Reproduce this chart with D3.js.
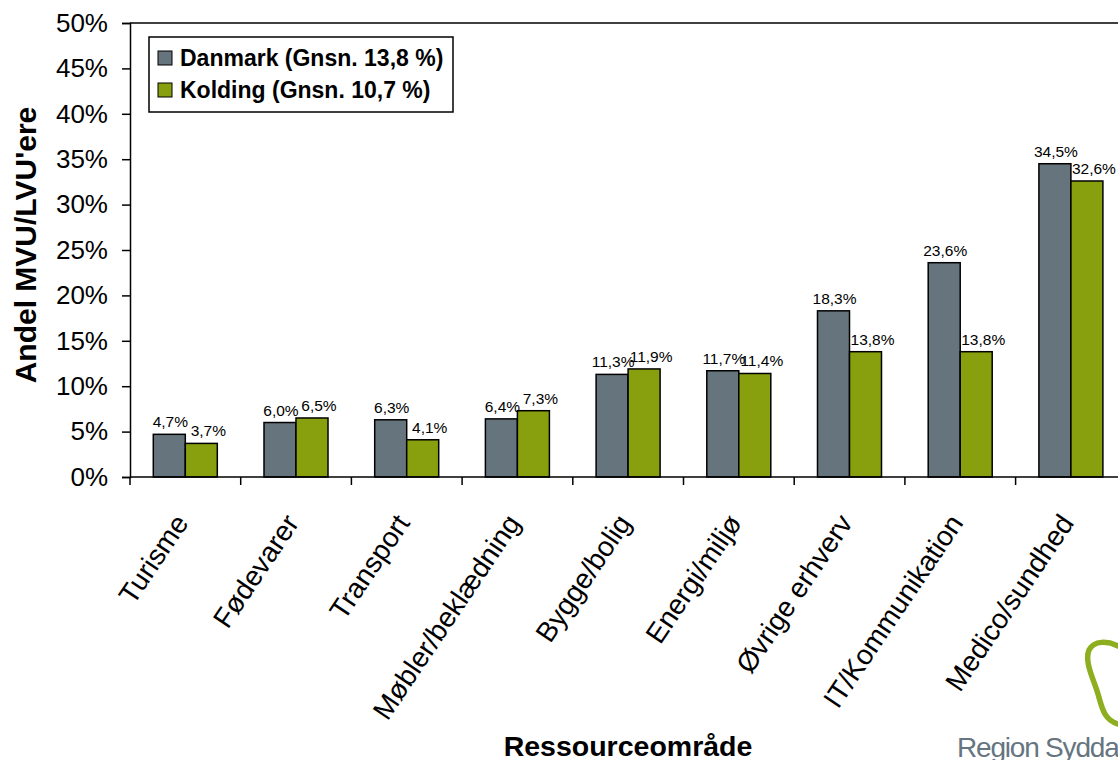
<!DOCTYPE html>
<html>
<head>
<meta charset="utf-8">
<script src="https://cdn.jsdelivr.net/npm/d3@7"></script>
<style>
  body { margin: 0; background: #fff; }
  svg { display: block; font-family: "Liberation Sans", Arial, sans-serif; }
</style>
</head>
<body>
<div id="chart"></div>
<script>
var w = 1118, h = 760;

var categories = ['Turisme', 'Fødevarer', 'Transport', 'Møbler/beklædning', 'Bygge/bolig',
                  'Energi/miljø', 'Øvrige erhverv', 'IT/Kommunikation', 'Medico/sundhed'];
var danmark = [4.7, 6.0, 6.3, 6.4, 11.3, 11.7, 18.3, 23.6, 34.5];
var kolding = [3.7, 6.5, 4.1, 7.3, 11.9, 11.4, 13.8, 13.8, 32.6];
var seriesNames = ['Danmark (Gnsn. 13,8 %)', 'Kolding (Gnsn. 10,7 %)'];
var seriesColors = ['#66757d', '#88a00e'];
var yTicks = [0, 5, 10, 15, 20, 25, 30, 35, 40, 45, 50];

// plot area edges (note: "top" is reserved on window, so use m-prefixed names)
var mLeft = 130, mTop = 23, mBottom = 477, mRight = 130 + 9 * 110.7;

var svg = d3.select('#chart').append('svg')
  .attr('width', w)
  .attr('height', h);

var x = d3.scaleBand().domain(categories).range([mLeft, mRight]).padding(0);
var xs = d3.scaleBand().domain([0, 1]).range([23.3, 87.3]).padding(0);
var y = d3.scaleLinear().domain([0, 50]).range([mBottom, mTop]);

function fmt(v) { return v.toFixed(1).replace('.', ',') + '%'; }

// top border of plot area
svg.append('line')
  .attr('x1', mLeft).attr('x2', w)
  .attr('y1', mTop).attr('y2', mTop)
  .attr('stroke', '#000').attr('stroke-width', 1.5);

// y axis
var yAxis = svg.append('g')
  .attr('transform', 'translate(' + mLeft + ',0)')
  .call(d3.axisLeft(y).tickValues(yTicks).tickSize(8).tickPadding(14)
    .tickFormat(function(d) { return d + '%'; }));
yAxis.select('.domain').attr('stroke-width', 1.5);
yAxis.selectAll('.tick line').attr('stroke-width', 1.5);
yAxis.selectAll('text').style('font-size', '26px').attr('fill', '#000')
  .attr('font-family', '"Liberation Sans", Arial, sans-serif');

// bars
var groups = svg.selectAll('.grp')
  .data(categories)
  .enter().append('g')
  .attr('transform', function(d) { return 'translate(' + x(d) + ',0)'; });

groups.each(function(c, i) {
  var vals = [danmark[i], kolding[i]];
  var g = d3.select(this);
  g.selectAll('rect')
    .data(vals)
    .enter().append('rect')
    .attr('x', function(d, j) { return xs(j); })
    .attr('y', function(d) { return y(d); })
    .attr('width', xs.bandwidth())
    .attr('height', function(d) { return mBottom - y(d); })
    .attr('fill', function(d, j) { return seriesColors[j]; })
    .attr('stroke', '#000')
    .attr('stroke-width', 1.5);
  g.selectAll('text.val')
    .data(vals)
    .enter().append('text')
    .attr('class', 'val')
    .attr('x', function(d, j) { return xs(j) + xs.bandwidth() / 2 + (j === 1 ? 7 : 1); })
    .attr('y', function(d) { return y(d) - 7; })
    .attr('text-anchor', 'middle')
    .style('font-size', '15.5px')
    .text(fmt);
});

// x axis
var xAxisLine = svg.append('g');
xAxisLine.append('line')
  .attr('x1', mLeft).attr('x2', w)
  .attr('y1', mBottom).attr('y2', mBottom)
  .attr('stroke', '#000').attr('stroke-width', 1.5);
xAxisLine.selectAll('line.tk')
  .data(categories)
  .enter().append('line')
  .attr('class', 'tk')
  .attr('x1', function(d) { return x(d); })
  .attr('x2', function(d) { return x(d); })
  .attr('y1', mBottom).attr('y2', mBottom + 8)
  .attr('stroke', '#000').attr('stroke-width', 1.5);

svg.selectAll('text.cat')
  .data(categories)
  .enter().append('text')
  .attr('class', 'cat')
  .attr('text-anchor', 'end')
  .attr('transform', function(d) {
    return 'translate(' + (x(d) + x.bandwidth() / 2 + 4) + ',' + (mBottom + 46) + ') rotate(-56)';
  })
  .style('font-size', '28px')
  .text(function(d) { return d; });

// axis titles
svg.append('text')
  .attr('transform', 'translate(36,245) rotate(-90)')
  .attr('text-anchor', 'middle')
  .style('font-size', '30px').style('font-weight', 'bold')
  .text("Andel MVU/LVU'ere");

svg.append('text')
  .attr('x', 628).attr('y', 756)
  .attr('text-anchor', 'middle')
  .style('font-size', '28.5px').style('font-weight', 'bold')
  .text('Ressourceområde');

// legend
var lg = svg.append('g').attr('transform', 'translate(149,37)');
lg.append('rect')
  .attr('width', 304).attr('height', 75)
  .attr('fill', '#fff').attr('stroke', '#000').attr('stroke-width', 1.5);
var items = lg.selectAll('.item')
  .data(seriesNames)
  .enter().append('g')
  .attr('transform', function(d, i) { return 'translate(9,' + (14 + i * 32) + ')'; });
items.append('rect')
  .attr('width', 14).attr('height', 14)
  .attr('fill', function(d, i) { return seriesColors[i]; })
  .attr('stroke', '#000').attr('stroke-width', 1);
items.append('text')
  .attr('x', 22).attr('y', 15)
  .style('font-size', '23px').style('font-weight', 'bold')
  .text(function(d) { return d; });

// logo (Region Syddanmark)
svg.append('path')
  .attr('d', 'M1118,646 C1108,641 1094,640 1089,650 C1084,662 1094,680 1098,694 C1102,708 1104,720 1118,724')
  .attr('fill', 'none')
  .attr('stroke', '#8cae1f')
  .attr('stroke-width', 5.5)
  .attr('stroke-linecap', 'round');
svg.append('text')
  .attr('x', 957).attr('y', 757)
  .style('font-size', '28px')
  .style('letter-spacing', '-1.2px')
  .attr('fill', '#66757f')
  .text('Region Syddanmark');
</script>
</body>
</html>
